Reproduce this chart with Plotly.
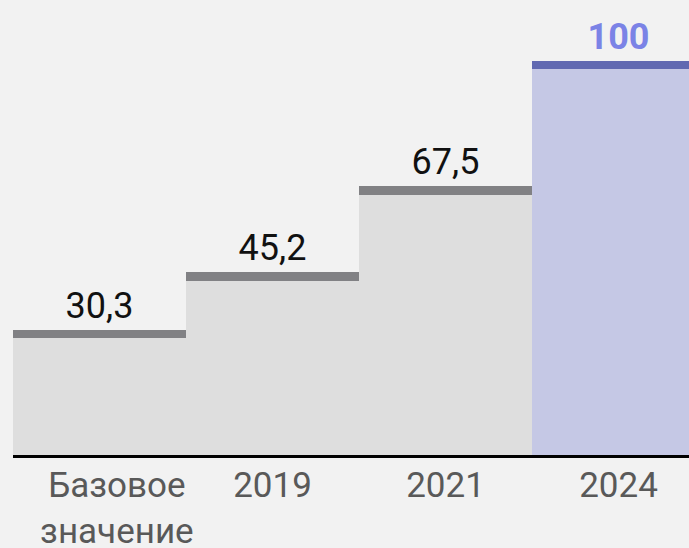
import plotly.graph_objects as go

categories = ["Базовое значение", "2019", "2021", "2024"]
tick_labels = ["\u00a0\u00a0\u00a0\u00a0Базовое<br>\u00a0\u00a0\u00a0\u00a0значение", "2019", "2021", "2024"]
values = [30.3, 45.2, 67.5, 100]
value_labels = ["30,3", "45,2", "67,5", "<b>100</b>"]

fill_colors = ["#dedede", "#dedede", "#dedede", "#c5c8e5"]
line_colors = ["#818184", "#818184", "#818184", "#6169b1"]
text_colors = ["#111111", "#111111", "#111111", "#7b83e6"]
LINE_THICK = 2.1  # thickness of top cap, in value units (style)

x = list(range(len(categories)))

fig = go.Figure()
fig.add_trace(go.Bar(
    x=x, y=values, width=1,
    marker=dict(color=fill_colors, line=dict(width=0)),
    hoverinfo="skip", showlegend=False,
))
fig.add_trace(go.Bar(
    x=x, y=[LINE_THICK] * len(values), width=1,
    marker=dict(color=line_colors, line=dict(width=0)),
    text=value_labels, textposition="outside", cliponaxis=False,
    textfont=dict(family="Roboto", size=36, color=text_colors),
    hoverinfo="skip", showlegend=False,
))

fig.update_layout(
    width=689, height=548,
    barmode="stack", bargap=0,
    paper_bgcolor="#f2f2f2", plot_bgcolor="#f2f2f2",
    margin=dict(l=13, r=0, t=0, b=93, autoexpand=False),
    font=dict(family="Roboto"),
    xaxis=dict(
        range=[-0.5, 3.4075], tickmode="array", tickvals=x, ticktext=tick_labels,
        showgrid=False, zeroline=False, showline=True, linecolor="#000000", linewidth=3,
        ticks="", tickfont=dict(family="Roboto", size=35, color="#595959"),
        ticklabelstandoff=-3,
        automargin=False, fixedrange=True,
    ),
    yaxis=dict(
        range=[0, 117.9], showgrid=False, zeroline=False, showticklabels=False,
        showline=False, automargin=False, fixedrange=True,
    ),
)

fig.write_html("out.html")
